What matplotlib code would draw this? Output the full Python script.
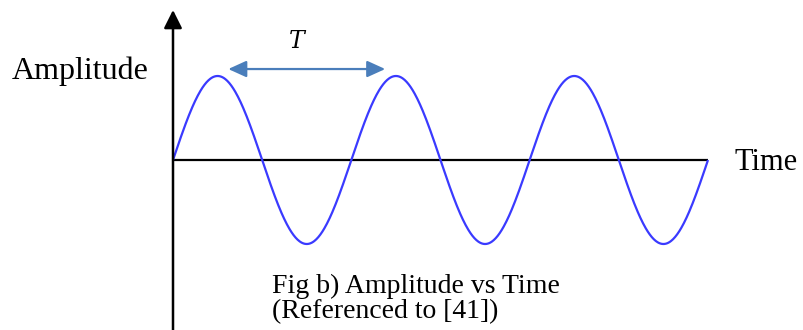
import numpy as np
import matplotlib
matplotlib.use("Agg")
import matplotlib.pyplot as plt
from matplotlib.patches import FancyArrowPatch

# ---- data ----
n_cycles = 3            # number of full periods shown
amplitude = 1.0         # wave amplitude
period = 1.0            # period T
n_samples = 800
t_arrow_start = 0.31    # T marker (in periods)
t_arrow_end = 1.19
t_arrow_level = 1.083   # height of T marker (amplitude units)

x_label = "Time"
y_label = "Amplitude"
period_label = "$T$"
caption_lines = ["Fig b) Amplitude vs Time", "(Referenced to [41])"]

t = np.linspace(0, n_cycles * period, n_samples)
y = amplitude * np.sin(2 * np.pi * t / period)

# ---- figure ----
W, H = 804, 330
fig = plt.figure(figsize=(W / 100, H / 100), dpi=100)
ax = fig.add_axes([0, 0, 1, 1])
ax.axis("off")

x0_px, x_end_px = 173, 708
px_per_x = (x_end_px - x0_px) / (n_cycles * period)
y0_px, px_per_y = 160, 84
ax.set_xlim(-x0_px / px_per_x, (W - x0_px) / px_per_x)
ax.set_ylim(-(H - y0_px) / px_per_y, y0_px / px_per_y)

serif = ["Liberation Serif", "DejaVu Serif"]

# sine wave
ax.plot(t, y, color="#3a3aff", lw=1.6, solid_capstyle="butt", zorder=3)

# horizontal axis
ax.plot([0, n_cycles * period], [0, 0], color="black", lw=1.6, zorder=2,
        solid_capstyle="butt")

# vertical axis with arrow head
y_bottom = ax.get_ylim()[0]
y_tip = (y0_px - 10) / px_per_y
ax.add_patch(FancyArrowPatch((0, y_bottom - 0.1), (0, y_tip),
                             arrowstyle="-|>,head_length=11,head_width=5.5",
                             mutation_scale=1, color="black", lw=1.8,
                             shrinkA=0, shrinkB=0, zorder=4))

# T period marker
ax.add_patch(FancyArrowPatch((t_arrow_start, t_arrow_level),
                             (t_arrow_end, t_arrow_level),
                             arrowstyle="<|-|>,head_length=11,head_width=5",
                             mutation_scale=1, color="#4a7ebb", lw=1.6,
                             shrinkA=0, shrinkB=0, zorder=4))

def fx(px):
    return px / W

def fy(py):
    return (H - py) / H

fig.text(fx(298), fy(48), period_label, fontsize=17, ha="center",
         va="baseline", math_fontfamily="dejavuserif")
fig.text(fx(12), fy(79), y_label, fontsize=23, ha="left", va="baseline",
         family=serif)
fig.text(fx(735), fy(170), x_label, fontsize=22, ha="left", va="baseline",
         family=serif)
fig.text(fx(272), fy(293), caption_lines[0], fontsize=20, ha="left",
         va="baseline", family=serif)
fig.text(fx(272), fy(318), caption_lines[1], fontsize=20, ha="left",
         va="baseline", family=serif)

fig.savefig("out.png", dpi=100)
